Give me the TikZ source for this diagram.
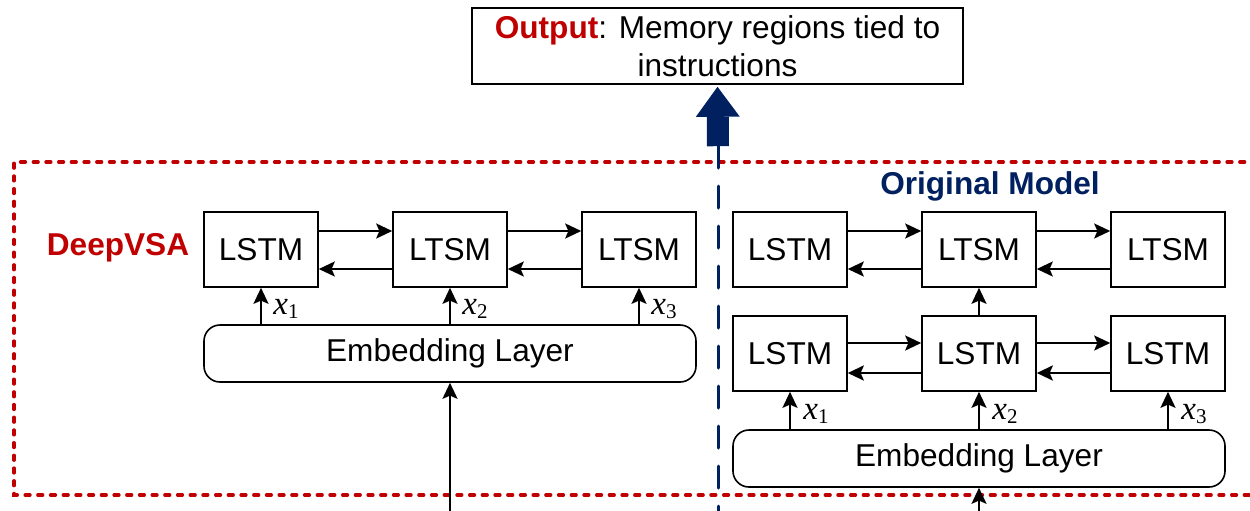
\documentclass[tikz,border=0pt]{standalone}
\usepackage{fontspec}
\setmainfont{Liberation Sans}
\newfontfamily\tnr{Liberation Serif}
\usetikzlibrary{arrows.meta,calc}
\definecolor{deepred}{HTML}{C00000}
\definecolor{navy}{HTML}{002060}

\newcommand{\xsub}[1]{x\raisebox{-2pt}{\upshape\fontsize{10.5}{10.5}\selectfont #1}}

\tikzset{
  cell/.style={draw, line width=0.8pt, minimum width=57pt, minimum height=37.5pt,
    inner sep=0pt, font=\fontsize{15.8}{19}\selectfont},
  embed/.style={draw, line width=0.8pt, rounded corners=8pt, minimum width=246pt,
    minimum height=28.5pt, inner sep=0pt, font=\fontsize{15.8}{19}\selectfont},
  flow/.style={line width=1.1pt, -{Stealth[length=8pt,width=7.5pt,inset=1.6pt]}},
  xlab/.style={anchor=base west, inner sep=0pt, font=\tnr\fontsize{16.5}{16.5}\selectfont\itshape},
  title/.style={inner sep=0pt, font=\bfseries\fontsize{15.8}{19}\selectfont},
}

\begin{document}
\begin{tikzpicture}[x=0.5pt, y=-0.5pt]
\useasboundingbox (0,0) rectangle (1250,510);
\clip (0,0) rectangle (1250,510);

% output box
\node[draw, line width=0.8pt, minimum width=245.5pt, minimum height=38pt, inner sep=0pt,
  align=center, font=\fontsize{15.8}{19}\selectfont] (out) at (717.5,46)
  {\textcolor{deepred}{\bfseries Output}: Memory regions tied to\\instructions};

% DeepVSA frame (open to the right)
\draw[deepred, line width=1.7pt, line cap=round, dash pattern=on 2.4pt off 3.95pt]
  (1270,162) -- (14,162) -- (14,495) -- (1270,495);

% separator and output arrow
\coordinate (abase) at (718,146);
\coordinate (vbot) at (718,525);
\draw[navy, line width=1.5pt, line cap=round, dash pattern=on 11pt off 9pt] (abase) -- (vbot);
\draw[navy, line width=11pt, -{Triangle[length=15pt,width=22pt,line width=0pt]}]
  ([yshift=-0.1pt]abase) -- ([yshift=-1pt]out.south);

% titles
\node[title, text=deepred] (tdeep) at (118,248) {DeepVSA};
\node[title, text=navy] (torig) at (990,186) {Original Model};

% ---------- DeepVSA ----------
\node[cell] (a1) at (261,249.5) {LSTM};
\node[cell] (a2) at (450,249.5) {LTSM};
\node[cell] (a3) at (639,249.5) {LTSM};
\node[embed] (ea) at (450,353.5) {Embedding Layer};

\foreach \u/\v in {a1/a2, a2/a3} {
  \draw[flow] ([yshift=9.25pt]\u.east) -- ([yshift=9.25pt]\v.west);
  \draw[flow] ([yshift=-9.75pt]\v.west) -- ([yshift=-9.75pt]\u.east);
}
\foreach \b/\i in {a1/1, a2/2, a3/3} {
  \draw[flow] (\b.south |- ea.north) -- (\b.south);
  \node[xlab] (xa\i) at ($(\b.south |- ea.north)+(12,-10)$) {\xsub{\i}};
}
\coordinate (ina) at (450,520);
\draw[flow] (ina) -- (ea.south);

% ---------- Original model ----------
\node[cell] (u1) at (790,249.5) {LSTM};
\node[cell] (u2) at (979,249.5) {LTSM};
\node[cell] (u3) at (1168,249.5) {LTSM};
\node[cell] (l1) at (790,353.5) {LSTM};
\node[cell] (l2) at (979,353.5) {LSTM};
\node[cell] (l3) at (1168,353.5) {LSTM};
\node[embed] (eb) at (979,458.5) {Embedding Layer};

\foreach \u/\v in {u1/u2, u2/u3} {
  \draw[flow] ([yshift=9.25pt]\u.east) -- ([yshift=9.25pt]\v.west);
  \draw[flow] ([yshift=-9.75pt]\v.west) -- ([yshift=-9.75pt]\u.east);
}
\foreach \u/\v in {l1/l2, l2/l3} {
  \draw[flow] ([yshift=5.25pt]\u.east) -- ([yshift=5.25pt]\v.west);
  \draw[flow, line width=1.4pt] ([yshift=-9.75pt]\v.west) -- ([yshift=-9.75pt]\u.east);
}
\draw[flow] (l2.north) -- (u2.south);
\foreach \b/\i in {l1/1, l2/2, l3/3} {
  \draw[flow] (\b.south |- eb.north) -- (\b.south);
  \node[xlab] (xb\i) at ($(\b.south |- eb.north)+(13,-10)$) {\xsub{\i}};
}
\coordinate (inb) at (979,520);
\draw[flow] (inb) -- (eb.south);
\end{tikzpicture}
\end{document}
